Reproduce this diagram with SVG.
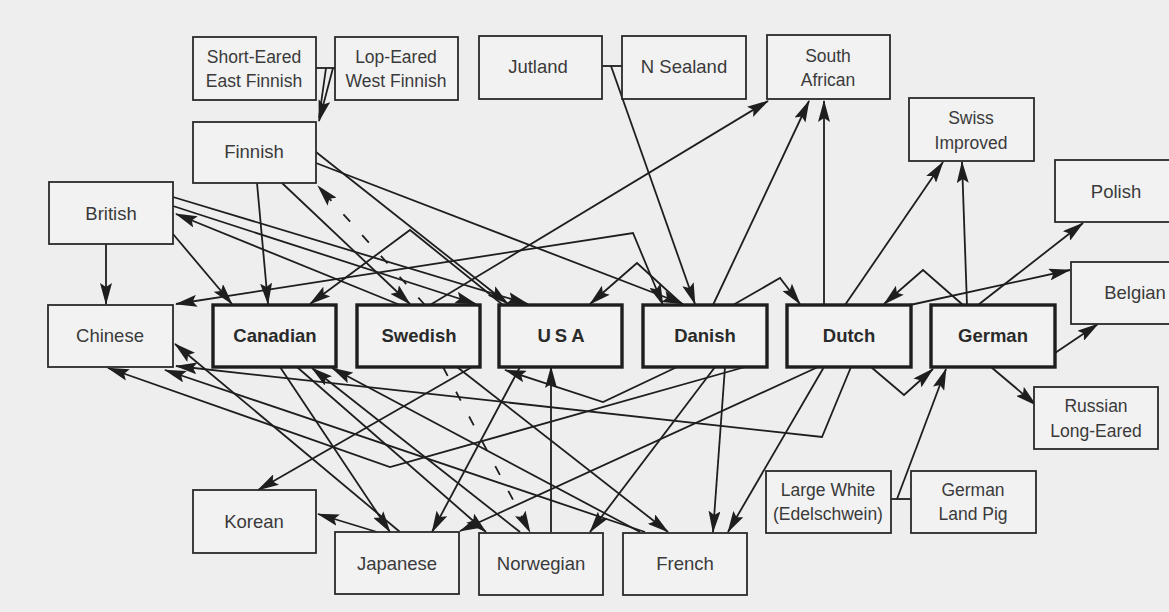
<svg xmlns="http://www.w3.org/2000/svg" width="1169" height="612" viewBox="0 0 1169 612">
<defs>
<style>
.b{fill:#f2f2f2;stroke:#2a2a2a;stroke-width:1.8}
.bb{fill:#f2f2f2;stroke:#1e1e1e;stroke-width:3.4}
.t{font-family:"Liberation Sans",Arial,sans-serif;font-size:18.5px;fill:#3a3a3a;text-anchor:middle}
.s{font-size:17.5px}
.bt{font-weight:bold;fill:#2a2a2a}
.e{fill:none;stroke:#1e1e1e;stroke-width:1.8;marker-end:url(#a)}
.n{fill:none;stroke:#1e1e1e;stroke-width:1.8}
.d{stroke-dasharray:10 18}
.both{marker-start:url(#a)}
</style>
<marker id="a" markerUnits="userSpaceOnUse" markerWidth="22" markerHeight="12" refX="21" refY="6" orient="auto-start-reverse"><path d="M0,0 L22,6 L0,12 L4,6 z" fill="#1e1e1e"/></marker>
</defs>
<rect width="1169" height="612" fill="#eeeeee"/>
<g id="connectors">
<path class="n" d="M316,68 H335"/>
<path class="e" d="M333,68 L319,121"/>
<path class="n" d="M326,68 L319,118"/>
<path class="n" d="M602,66 H622"/>
<path class="e" d="M611,66 L695,304"/>
<path class="e" d="M430,305 L768,101"/>
<path class="e" d="M713,305 L809,101"/>
<path class="e" d="M824,305 L824,101"/>
<path class="e" d="M845,305 L943,162"/>
<path class="e" d="M967,305 L962,162"/>
<path class="e" d="M978,305 L1083,223"/>
<path class="e" d="M910,305 L1070,270"/>
<path class="e" d="M1055,353 L1098,324"/>
<path class="e" d="M991,367 L1036,405"/>
<path class="e" d="M871,367 L904,395 L933,369"/>
<path class="n" d="M891,499 H911"/>
<path class="e" d="M897,499 L946,369"/>
<path class="e" d="M963,305 L923,270 L884,304"/>
<path class="e" d="M733,305 L780,278 L800,304"/>
<path class="e" d="M683,305 L637,263 L590,304"/>
<path class="e both" d="M663,305 L633,233 L176,304"/>
<path class="e" d="M503,305 L410,230 L310,304"/>
<path class="e" d="M257,183 L268,304"/>
<path class="e" d="M282,183 L410,304"/>
<path class="e" d="M316,152 L508,304"/>
<path class="e" d="M316,163 L683,304"/>
<path class="e d" d="M425,305 L318,186"/>
<path class="e" d="M106,244 L106,304"/>
<path class="e" d="M173,234 L232,304"/>
<path class="e" d="M173,197 L528,304"/>
<path class="e" d="M400,305 L176,214"/>
<path class="e" d="M173,206 L476,304"/>
<path class="e" d="M851,367 L822,437 L176,366"/>
<path class="e" d="M818,367 L460,531"/>
<path class="e" d="M824,367 L728,532"/>
<path class="e" d="M725,367 L713,532"/>
<path class="e" d="M715,367 L590,532"/>
<path class="e" d="M745,367 L390,467 L108,368"/>
<path class="e" d="M677,367 L603,402 L505,370"/>
<path class="e" d="M377,532 L318,514"/>
<path class="e" d="M472,367 L258,490"/>
<path class="e" d="M280,367 L390,532"/>
<path class="e" d="M297,367 L486,532"/>
<path class="e" d="M400,532 L175,344"/>
<path class="e" d="M520,367 L432,532"/>
<path class="e d" d="M443,367 L530,532"/>
<path class="e" d="M551,532 L551,367"/>
<path class="e" d="M457,367 L668,532"/>
<path class="e" d="M645,532 L165,370"/>
<path class="e" d="M520,532 L312,368"/>
<path class="e" d="M640,532 L332,368"/>
</g>
<g id="n-se"><rect class="b" x="193" y="37" width="123" height="63"/><text class="t s" x="254" y="63">Short-Eared</text><text class="t s" x="254" y="87">East Finnish</text></g>
<g id="n-lw"><rect class="b" x="335" y="37" width="123" height="63"/><text class="t s" x="396" y="63">Lop-Eared</text><text class="t s" x="396" y="87">West Finnish</text></g>
<g id="n-jutland"><rect class="b" x="479" y="36" width="123" height="63"/><text class="t" x="538" y="73">Jutland</text></g>
<g id="n-nsealand"><rect class="b" x="622" y="36" width="124" height="63"/><text class="t" x="684" y="73">N Sealand</text></g>
<g id="n-southafrican"><rect class="b" x="767" y="35" width="123" height="64"/><text class="t s" x="828" y="62">South</text><text class="t s" x="828" y="86">African</text></g>
<g id="n-swiss"><rect class="b" x="909" y="98" width="125" height="63"/><text class="t s" x="971" y="124">Swiss</text><text class="t s" x="971" y="149">Improved</text></g>
<g id="n-polish"><rect class="b" x="1055" y="160" width="125" height="62"/><text class="t" x="1116" y="198">Polish</text></g>
<g id="n-belgian"><rect class="b" x="1071" y="262" width="110" height="62"/><text class="t" x="1135" y="299">Belgian</text></g>
<g id="n-finnish"><rect class="b" x="193" y="122" width="123" height="61"/><text class="t" x="254" y="158">Finnish</text></g>
<g id="n-british"><rect class="b" x="49" y="182" width="124" height="62"/><text class="t" x="111" y="220">British</text></g>
<g id="n-chinese"><rect class="b" x="48" y="305" width="125" height="62"/><text class="t" x="110" y="342">Chinese</text></g>
<g id="n-canadian"><rect class="bb" x="213" y="305" width="123" height="62"/><text class="t bt" x="275" y="342">Canadian</text></g>
<g id="n-swedish"><rect class="bb" x="357" y="305" width="123" height="62"/><text class="t bt" x="419" y="342">Swedish</text></g>
<g id="n-usa"><rect class="bb" x="499" y="305" width="123" height="62"/><text class="t bt" x="563" y="342" letter-spacing="4">USA</text></g>
<g id="n-danish"><rect class="bb" x="643" y="305" width="124" height="62"/><text class="t bt" x="705" y="342">Danish</text></g>
<g id="n-dutch"><rect class="bb" x="787" y="305" width="124" height="62"/><text class="t bt" x="849" y="342">Dutch</text></g>
<g id="n-german"><rect class="bb" x="931" y="305" width="124" height="62"/><text class="t bt" x="993" y="342">German</text></g>
<g id="n-russian"><rect class="b" x="1034" y="387" width="124" height="62"/><text class="t s" x="1096" y="412">Russian</text><text class="t s" x="1096" y="437">Long-Eared</text></g>
<g id="n-largewhite"><rect class="b" x="766" y="471" width="125" height="62"/><text class="t s" x="828" y="496">Large White</text><text class="t s" x="828" y="520">(Edelschwein)</text></g>
<g id="n-germanlandpig"><rect class="b" x="911" y="471" width="125" height="62"/><text class="t s" x="973" y="496">German</text><text class="t s" x="973" y="520">Land Pig</text></g>
<g id="n-korean"><rect class="b" x="193" y="490" width="123" height="63"/><text class="t" x="254" y="528">Korean</text></g>
<g id="n-japanese"><rect class="b" x="335" y="532" width="124" height="62"/><text class="t" x="397" y="570">Japanese</text></g>
<g id="n-norwegian"><rect class="b" x="479" y="533" width="124" height="62"/><text class="t" x="541" y="570">Norwegian</text></g>
<g id="n-french"><rect class="b" x="623" y="533" width="124" height="62"/><text class="t" x="685" y="570">French</text></g>
</svg>
